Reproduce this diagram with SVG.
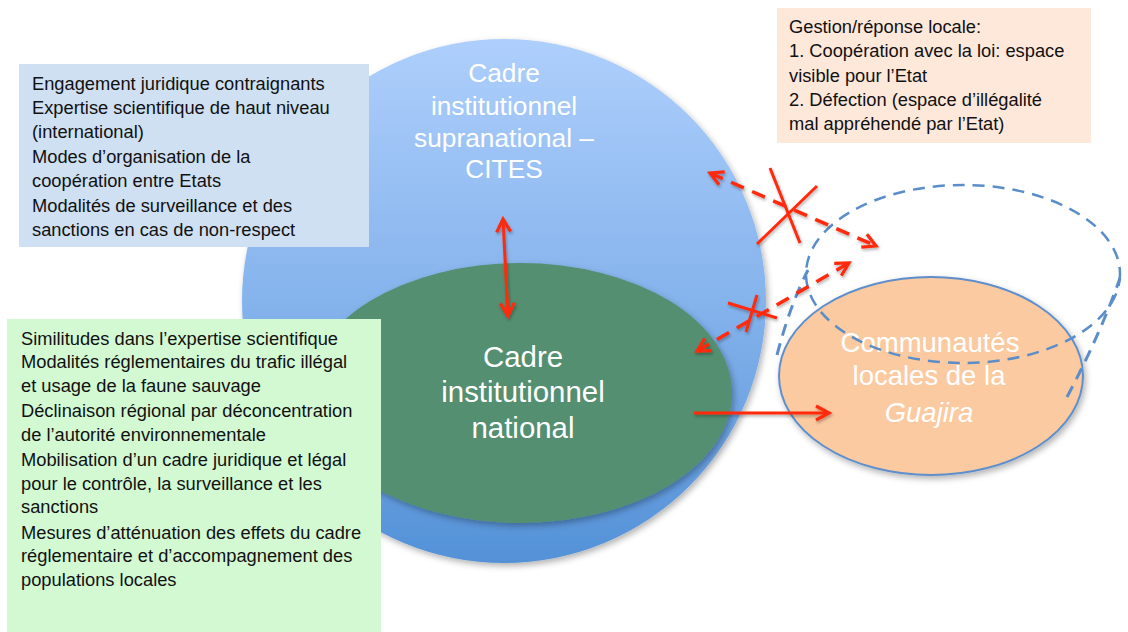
<svg xmlns="http://www.w3.org/2000/svg" width="1128" height="632" viewBox="0 0 1128 632">
<style>
.small{font-family:"Liberation Sans",Arial,sans-serif;font-size:18.3px;fill:#111;}
.big{font-family:"Liberation Sans",Arial,sans-serif;fill:#ffffff;text-anchor:middle;}
.red{stroke:#ff2a0a;stroke-width:3;fill:none;}
.reddash{stroke:#ff2a0a;stroke-width:3.5;fill:none;stroke-dasharray:14 9;}
.bluedash{stroke:#5b8ec9;fill:none;stroke-dasharray:12 8;}
</style>
<defs>
<linearGradient id="gBlue" x1="0" y1="0" x2="0" y2="1">
<stop offset="0" stop-color="#aecffc"/>
<stop offset="0.5" stop-color="#85b3ec"/>
<stop offset="1" stop-color="#5391d7"/>
</linearGradient>
<filter id="sh" x="-10%" y="-10%" width="125%" height="125%">
<feDropShadow dx="2" dy="3" stdDeviation="3" flood-color="#000" flood-opacity="0.3"/>
</filter>
<filter id="shs" x="-20%" y="-20%" width="140%" height="140%">
<feDropShadow dx="1" dy="2" stdDeviation="1.5" flood-color="#000" flood-opacity="0.3"/>
</filter>
<marker id="ah" viewBox="-16 -10 20 20" markerWidth="20" markerHeight="20" refX="0" refY="0" orient="auto-start-reverse" markerUnits="userSpaceOnUse">
<path d="M-13,-7 L0,0 L-13,7" fill="none" stroke="#ff2a0a" stroke-width="3.2" stroke-dasharray="none"/>
</marker>
</defs>

<g id="supranational">
<circle cx="504" cy="301" r="262" fill="url(#gBlue)" filter="url(#sh)"/>
<text class="big" font-size="26.3" x="504" y="82">Cadre</text>
<text class="big" font-size="26.3" x="504" y="115">institutionnel</text>
<text class="big" font-size="26.3" x="504" y="147">supranational –</text>
<text class="big" font-size="26.3" x="504" y="178">CITES</text>
</g>

<g id="national">
<ellipse cx="520" cy="393" rx="212" ry="130" fill="#528f70" filter="url(#sh)"/>
<text class="big" font-size="29.4" x="523" y="367">Cadre</text>
<text class="big" font-size="29.4" x="523" y="402">institutionnel</text>
<text class="big" font-size="29.4" x="523" y="438">national</text>
</g>

<g id="communautes">
<ellipse cx="931" cy="376" rx="152" ry="99" fill="#fbcaa0" stroke="#5f8fcb" stroke-width="2" filter="url(#sh)"/>
<text class="big" font-size="27.5" x="930" y="352">Communautés</text>
<text class="big" font-size="27.5" x="929" y="385">locales de la</text>
<text class="big" font-size="27.5" x="929" y="422" font-style="italic">Guajira</text>
</g>

<g id="espace-illegalite">
<ellipse cx="963" cy="274" rx="157" ry="89" class="bluedash" stroke-width="2.5"/>
<path d="M777,355 Q790,305 808,270" class="bluedash" stroke-width="3"/>
<path d="M1067,397 Q1100,335 1120,278" class="bluedash" stroke-width="3"/>
</g>

<g id="box-supranational">
<rect x="19" y="64" width="350" height="183" fill="#cfe0f3"/>
<text class="small" x="32" y="90">Engagement juridique contraignants</text>
<text class="small" x="32" y="114">Expertise scientifique de haut niveau</text>
<text class="small" x="32" y="138">(international)</text>
<text class="small" x="32" y="163">Modes d’organisation de la</text>
<text class="small" x="32" y="187">coopération entre Etats</text>
<text class="small" x="32" y="212">Modalités de surveillance et des</text>
<text class="small" x="32" y="236">sanctions en cas de non-respect</text>
</g>

<g id="box-national">
<rect x="7" y="319" width="374" height="313" fill="#d3f9d3"/>
<text class="small" x="21" y="345">Similitudes dans l’expertise scientifique</text>
<text class="small" x="21" y="368">Modalités réglementaires du trafic illégal</text>
<text class="small" x="21" y="392">et usage de la faune sauvage</text>
<text class="small" x="21" y="417">Déclinaison régional par déconcentration</text>
<text class="small" x="21" y="441">de l’autorité environnementale</text>
<text class="small" x="21" y="466">Mobilisation d’un cadre juridique et légal</text>
<text class="small" x="21" y="490">pour le contrôle, la surveillance et les</text>
<text class="small" x="21" y="513">sanctions</text>
<text class="small" x="21" y="539">Mesures d’atténuation des effets du cadre</text>
<text class="small" x="21" y="562">réglementaire et d’accompagnement des</text>
<text class="small" x="21" y="586">populations locales</text>
</g>

<g id="box-local">
<rect x="777" y="8" width="314" height="135" fill="#fde8da"/>
<text class="small" x="789" y="33">Gestion/réponse locale:</text>
<text class="small" x="789" y="57">1. Coopération avec la loi: espace</text>
<text class="small" x="789" y="82">visible pour l’Etat</text>
<text class="small" x="789" y="106">2. Défection (espace d’illégalité</text>
<text class="small" x="789" y="130">mal appréhendé par l’Etat)</text>
</g>

<g id="connectors" filter="url(#shs)">
<line x1="503" y1="219" x2="508" y2="316" class="red" marker-start="url(#ah)" marker-end="url(#ah)"/>
<line x1="694" y1="413" x2="829" y2="413" class="red" marker-end="url(#ah)"/>
<line x1="710" y1="173" x2="876" y2="246" class="reddash" marker-start="url(#ah)" marker-end="url(#ah)"/>
<line x1="697" y1="351" x2="849" y2="263" class="reddash" marker-start="url(#ah)" marker-end="url(#ah)"/>
<line x1="770" y1="168" x2="800" y2="243" class="red"/>
<line x1="817" y1="186" x2="757" y2="244" class="red"/>
<line x1="728" y1="303" x2="777" y2="318" class="red"/>
<line x1="757" y1="295" x2="746" y2="332" class="red"/>
</g>
</svg>
